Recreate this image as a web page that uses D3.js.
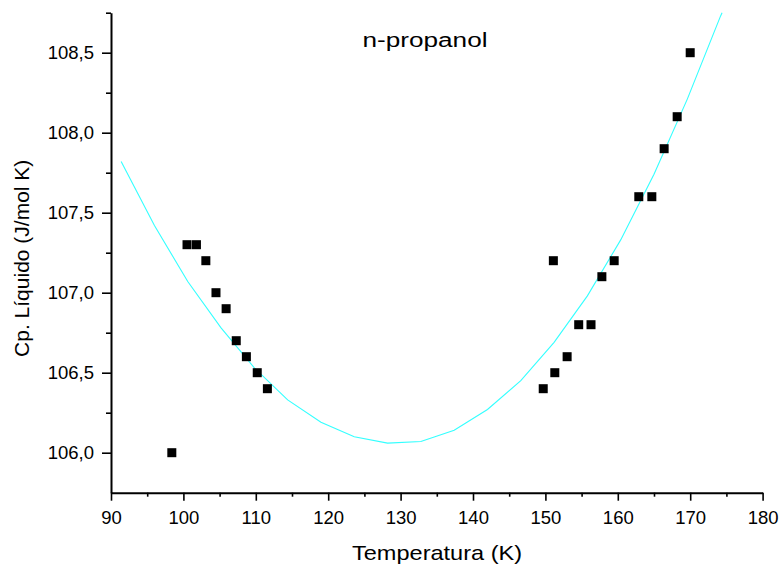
<!DOCTYPE html>
<html>
<head>
<meta charset="utf-8">
<script src="https://cdn.jsdelivr.net/npm/d3@7"></script>
<style>
  html, body { margin: 0; padding: 0; background: #ffffff; }
  svg { display: block; }
  text { font-family: "Liberation Sans", Arial, sans-serif; fill: #000; }
</style>
</head>
<body>
<svg id="chart" width="784" height="572"></svg>
<script>
// ---- data ----
const temperature = [98.4, 100.5, 101.8, 103.1, 104.5, 105.9, 107.3, 108.7, 110.2, 111.6,
                     149.7, 151.1, 151.3, 153.0, 154.6, 156.3, 157.8, 159.5, 162.9, 164.7, 166.4, 168.2, 170.0];
const cpLiquid    = [106.0, 107.3, 107.3, 107.2, 107.0, 106.9, 106.7, 106.6, 106.5, 106.4,
                     106.4, 107.2, 106.5, 106.6, 106.8, 106.8, 107.1, 107.2, 107.6, 107.6, 107.9, 108.1, 108.5];

const fitTemperature = [91.4, 96.0, 100.6, 105.2, 109.8, 114.4, 119.0, 123.6, 128.2, 132.8,
                        137.4, 142.0, 146.6, 151.2, 155.8, 160.4, 165.0, 169.6, 174.2, 174.4];
const fitCp          = [107.82, 107.42, 107.07, 106.78, 106.53, 106.33, 106.19, 106.10, 106.06, 106.07,
                        106.14, 106.27, 106.45, 106.69, 106.98, 107.33, 107.74, 108.21, 108.73, 108.75];

const xMajorTicks = [90, 100, 110, 120, 130, 140, 150, 160, 170, 180];
const xMinorTicks = [95, 105, 115, 125, 135, 145, 155, 165, 175];
const yMajorTicks = [106.0, 106.5, 107.0, 107.5, 108.0, 108.5];
const yMinorTicks = [106.25, 106.75, 107.25, 107.75, 108.25, 108.75];

const chartTitle = "n-propanol";
const xTitle = "Temperatura (K)";
const yTitle = "Cp. Líquido (J/mol K)";

// ---- layout ----
const svg = d3.select("#chart");
const plotLeft = 111, plotRight = 762.6, plotTop = 12.7, plotBottom = 492.7;

const x = d3.scaleLinear().domain([90, 180]).range([plotLeft, plotRight]);
const y = d3.scaleLinear().domain([105.75, 108.75]).range([plotBottom, plotTop]);

const fmt = d => d3.format(".1f")(d).replace(".", ",");

// fit curve
const fitData = fitTemperature.map((t, i) => [t, fitCp[i]]);
svg.append("path")
  .datum(fitData)
  .attr("fill", "none")
  .attr("stroke", "#33ffff")
  .attr("stroke-width", 1.1)
  .attr("d", d3.line().x(d => x(d[0])).y(d => y(d[1])));

// points
const s = 9;
svg.append("g").selectAll("rect")
  .data(temperature.map((t, i) => [t, cpLiquid[i]]))
  .join("rect")
  .attr("x", d => x(d[0]) - s / 2)
  .attr("y", d => y(d[1]) - s / 2)
  .attr("width", s)
  .attr("height", s)
  .attr("fill", "#000");

// x axis
const gx = svg.append("g").attr("transform", `translate(0,${plotBottom})`);
gx.call(d3.axisBottom(x).tickValues(xMinorTicks).tickSize(4).tickSizeOuter(0).tickFormat(""));
gx.call(g => g.select(".domain").remove());
const gx2 = svg.append("g").attr("transform", `translate(0,${plotBottom})`);
gx2.call(d3.axisBottom(x).tickValues(xMajorTicks).tickSize(8).tickSizeOuter(0).tickPadding(4).tickFormat(d3.format("d")));
gx2.selectAll("text").attr("font-size", 18.5).attr("font-family", "Liberation Sans, Arial, sans-serif").attr("dy", "0.78em").attr("y", 17);
[gx, gx2].forEach(g => g.selectAll("line").attr("stroke", "#000").attr("stroke-width", 1.6));
gx2.select(".domain").attr("stroke", "#000").attr("stroke-width", 2);

// y axis
const gy = svg.append("g").attr("transform", `translate(${plotLeft},0)`);
gy.call(d3.axisLeft(y).tickValues(yMinorTicks).tickSize(5).tickSizeOuter(0).tickFormat(""));
gy.call(g => g.select(".domain").remove());
const gy2 = svg.append("g").attr("transform", `translate(${plotLeft},0)`);
gy2.call(d3.axisLeft(y).tickValues(yMajorTicks).tickSize(9).tickSizeOuter(0).tickPadding(8).tickFormat(fmt));
gy2.selectAll("text").attr("font-size", 18.5).attr("font-family", "Liberation Sans, Arial, sans-serif");
[gy, gy2].forEach(g => g.selectAll("line").attr("stroke", "#000").attr("stroke-width", 1.6));
gy2.select(".domain").attr("stroke", "#000").attr("stroke-width", 2);

// titles
svg.append("text")
  .attr("x", 425).attr("y", 46.5)
  .attr("text-anchor", "middle")
  .attr("font-size", 20)
  .attr("textLength", 125).attr("lengthAdjust", "spacingAndGlyphs")
  .text(chartTitle);

svg.append("text")
  .attr("x", 437).attr("y", 560)
  .attr("text-anchor", "middle")
  .attr("font-size", 21)
  .attr("textLength", 170).attr("lengthAdjust", "spacingAndGlyphs")
  .text(xTitle);

svg.append("text")
  .attr("transform", "translate(28.5,258.3) rotate(-90)")
  .attr("text-anchor", "middle")
  .attr("font-size", 21)
  .text(yTitle);
</script>
</body>
</html>
